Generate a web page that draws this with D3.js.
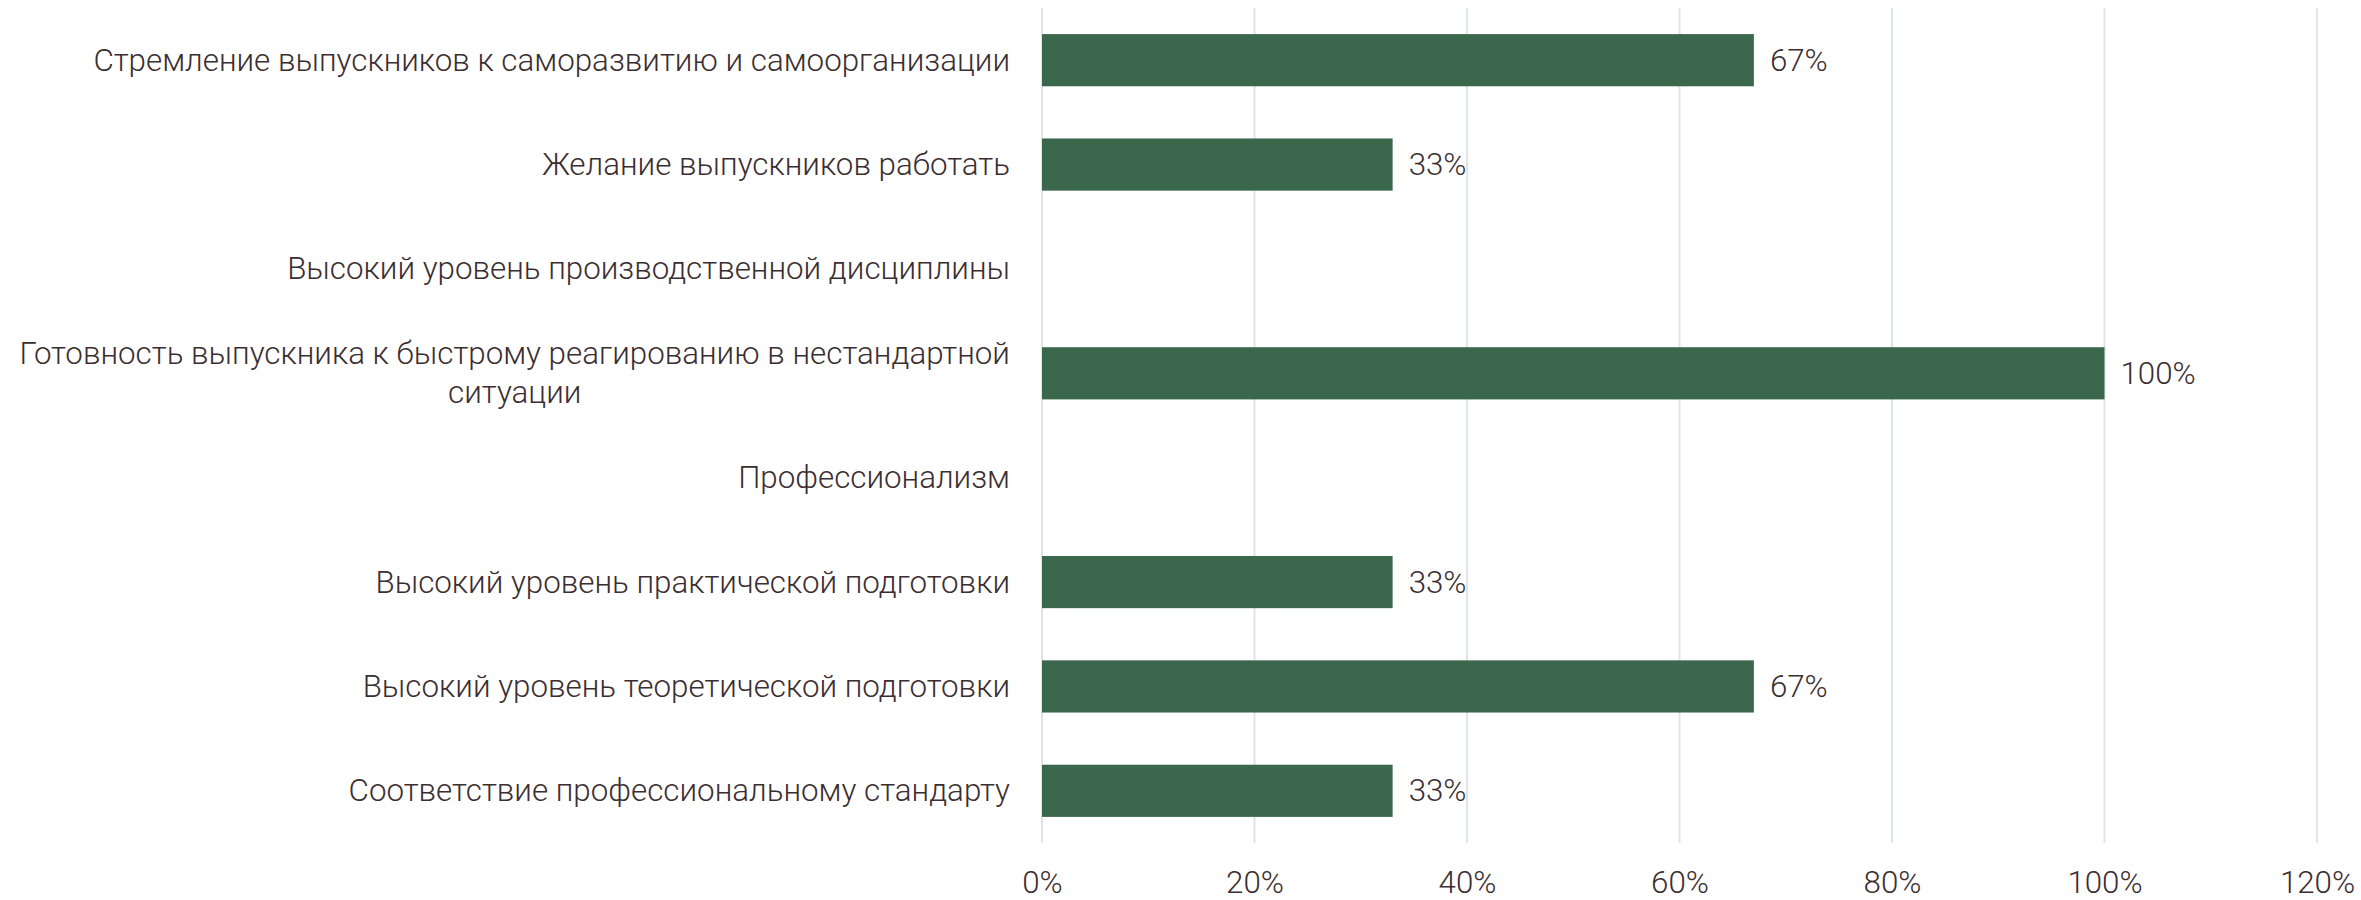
<!DOCTYPE html>
<html><head><meta charset="utf-8">
<script src="https://cdn.jsdelivr.net/npm/d3@7"></script>
<style>body{margin:0;background:#fff}</style></head>
<body><svg id="c" width="2361" height="900"></svg>
<script>
const categories = [
  "Стремление выпускников к саморазвитию и самоорганизации",
  "Желание выпускников работать",
  "Высокий уровень производственной дисциплины",
  "Готовность выпускника к быстрому реагированию в нестандартной ситуации",
  "Профессионализм",
  "Высокий уровень практической подготовки",
  "Высокий уровень теоретической подготовки",
  "Соответствие профессиональному стандарту"
];
const values = [67, 33, 0, 100, 0, 33, 67, 33];
const tickValues = [0, 20, 40, 60, 80, 100, 120];

const W = 2361, H = 900;
const m = {left: 1042, right: 44, top: 8, bottom: 57};
const FONT = "Roboto, sans-serif";
const textColor = "#3b2e31";
const svg = d3.select("#c");

const x = d3.scaleLinear().domain([0, 120]).range([m.left, W - m.right]);
const y = d3.scaleBand().domain(categories).range([m.top, H - m.bottom]).paddingInner(0.5).paddingOuter(0.25);

// font size fit
const probe = svg.append("text").attr("font-family", FONT).attr("font-weight", 300).attr("font-size", 30).text(categories[0]);
const pw = probe.node().getComputedTextLength();
probe.remove();
const fs = 30 * 917 / pw;

// gridlines
svg.append("g").selectAll("line").data(tickValues).join("line")
  .attr("x1", d => x(d)).attr("x2", d => x(d))
  .attr("y1", m.top).attr("y2", H - m.bottom)
  .attr("stroke", "#dfe4ea").attr("stroke-width", 2);

// bars
svg.append("g").selectAll("rect").data(values).join("rect")
  .attr("x", x(0)).attr("y", (d, i) => y(categories[i]))
  .attr("width", d => x(d) - x(0)).attr("height", y.bandwidth())
  .attr("fill", "#3b684c");

// value labels
svg.append("g").selectAll("text").data(values.map((v, i) => ({v, i})).filter(d => d.v > 0)).join("text")
  .attr("x", d => x(d.v) + 16).attr("y", d => y(categories[d.i]) + y.bandwidth() / 2)
  .attr("dominant-baseline", "central")
  .attr("font-family", FONT).attr("font-weight", 300).attr("font-size", fs).attr("fill", textColor)
  .text(d => d.v + "%");

// x axis
const xAxis = svg.append("g").attr("transform", `translate(0,${H - m.bottom})`)
  .call(d3.axisBottom(x).tickValues(tickValues).tickFormat(d => d + "%").tickSize(0).tickPadding(0));
xAxis.select(".domain").remove();
xAxis.selectAll("text").attr("y", 882 - (H - m.bottom)).attr("dy", "0.35em")
  .attr("font-family", FONT).attr("font-weight", 300).attr("font-size", fs).attr("fill", textColor);

// category labels with wrapping
const labelRight = 1010, maxW = 1005, lineH = 39;
const lg = svg.append("g").attr("font-family", FONT).attr("font-weight", 300).attr("font-size", fs).attr("fill", textColor);
categories.forEach((c, i) => {
  const words = c.split(" ");
  const lines = [];
  let cur = "";
  const t = lg.append("text");
  words.forEach(w => {
    const test = cur ? cur + " " + w : w;
    t.text(test);
    if (t.node().getComputedTextLength() > maxW && cur) { lines.push(cur); cur = w; }
    else cur = test;
  });
  lines.push(cur);
  let widest = 0;
  lines.forEach(l => { t.text(l); widest = Math.max(widest, t.node().getComputedTextLength()); });
  t.text(null);
  const cy = y(c) + y.bandwidth() / 2;
  const cx = labelRight - widest / 2;
  lines.forEach((l, j) => {
    t.append("tspan").attr("x", cx).attr("y", cy + (j - (lines.length - 1) / 2) * lineH)
      .attr("text-anchor", "middle").attr("dominant-baseline", "central").text(l);
  });
});
</script></body></html>
